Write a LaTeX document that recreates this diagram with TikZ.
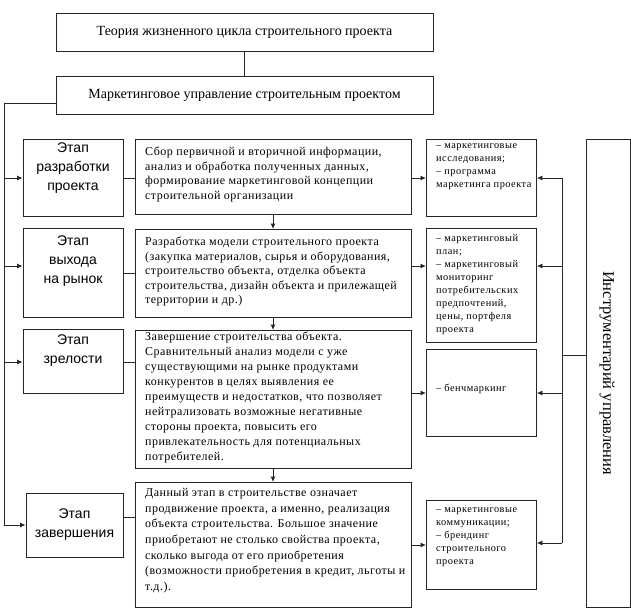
\documentclass[tikz,border=0pt]{standalone}
\usepackage{fontspec}
\setmainfont{Liberation Serif}
\newfontfamily\sansf{Liberation Sans}
\newfontfamily\midf[LetterSpace=4]{Liberation Serif}
\newfontfamily\rightf[LetterSpace=5]{Liberation Serif}
\usetikzlibrary{arrows.meta}
\tikzset{
  every picture/.style={x=1pt,y=-1pt},
  boxline/.style={draw=black!85,line width=0.9pt},
  conn/.style={draw=black!85,line width=0.8pt},
  arr/.style={conn,-{Latex[length=5.5pt,width=5pt]}},
  titlebox/.style={boxline,minimum width=377pt,minimum height=38pt,inner sep=0pt,
     font=\fontsize{14}{16}\selectfont},
  stagebox/.style={boxline,minimum width=100pt,inner sep=0pt,align=center,
     font=\sansf\fontsize{14}{19}\selectfont},
  midtext/.style={anchor=north west,inner sep=0pt,align=left,
     font=\midf\fontsize{12}{14.5}\selectfont},
  righttext/.style={anchor=north west,inner sep=0pt,align=left,
     font=\rightf\fontsize{10.3}{13}\selectfont},
  plainbox/.style={boxline,anchor=north west,inner sep=0pt}
}
\begin{document}
\begin{tikzpicture}
\useasboundingbox (0,0) rectangle (631,610);
% titles
\node[titlebox] (t1) at (244.5,32) {Теория жизненного цикла строительного проекта};
\node[titlebox] (t2) at (244.5,95) {Маркетинговое управление строительным проектом};
\draw[conn] (t1.south) -- (t2.north);
% left stage boxes
\node[stagebox,minimum height=77pt] (s1) at (73,177.5) {Этап\\разработки\\проекта\\[3pt]};
\node[stagebox,minimum height=89pt] (s2) at (73,272.5) {Этап\\выхода\\на рынок\\[6pt]};
\node[stagebox,minimum height=64pt] (s3) at (73,361) {Этап\\зрелости\\[4pt]};
\node[stagebox,minimum width=97pt,minimum height=64pt] (s4) at (74.5,525) {Этап\\завершения};
% middle boxes
\node[plainbox,minimum width=276pt,minimum height=75pt] (m1) at (135,139) {};
\node[plainbox,minimum width=276pt,minimum height=88pt] (m2) at (135,229) {};
\node[plainbox,minimum width=276pt,minimum height=138pt] (m3) at (135,330) {};
\node[plainbox,minimum width=276pt,minimum height=125pt] (m4) at (135,482) {};
\node[midtext] (mt1) at (145,147) {Сбор первичной и вторичной информации,\\анализ и обработка полученных данных,\\формирование маркетинговой концепции\\строительной организации};
\node[midtext] (mt2) at (145,237) {Разработка модели строительного проекта\\(закупка материалов, сырья и оборудования,\\строительство объекта, отделка объекта\\строительства, дизайн объекта и прилежащей\\территории и др.)};
\node[midtext,font=\midf\fontsize{12}{15}\selectfont] (mt3) at (145,332) {Завершение строительства объекта.\\Сравнительный анализ модели с уже\\существующими на рынке продуктами\\конкурентов в целях выявления ее\\преимуществ и недостатков, что позволяет\\нейтрализовать возможные негативные\\стороны проекта, повысить его\\привлекательность для потенциальных\\потребителей.};
\node[midtext,font=\midf\fontsize{12}{15.7}\selectfont] (mt4) at (145,488) {Данный этап в строительстве означает\\продвижение проекта, а именно, реализация\\объекта строительства. Большое значение\\приобретают не столько свойства проекта,\\сколько выгода от его приобретения\\(возможности приобретения в кредит, льготы и\\т.д.).};
% right boxes
\node[plainbox,minimum width=110pt,minimum height=77pt] (r1) at (426,139) {};
\node[plainbox,minimum width=110pt,minimum height=114pt] (r2) at (426,228) {};
\node[plainbox,minimum width=110pt,minimum height=87pt] (r3) at (426,349) {};
\node[plainbox,minimum width=110pt,minimum height=89pt] (r4) at (426,500) {};
\node[righttext] (rt1) at (436,143) {– маркетинговые\\исследования;\\– программа\\маркетинга проекта};
\node[righttext] (rt2) at (436,234) {– маркетинговый\\план;\\– маркетинговый\\мониторинг\\потребительских\\предпочтений,\\цены, портфеля\\проекта};
\node[righttext] (rt3) at (436,384) {– бенчмаркинг};
\node[righttext] (rt4) at (436,507) {– маркетинговые\\коммуникации;\\– брендинг\\строительного\\проекта};
% instrument box
\node[plainbox,minimum width=44pt,minimum height=468pt] (ib) at (586,139) {};
\node[rotate=-90,inner sep=0pt,font=\fontsize{16.5}{18}\selectfont] (it) at (607,373) {Инструментарий управления};
% left bus
\coordinate (lb0) at (4,103);
\coordinate (lb1) at (4,178);
\coordinate (lb2) at (4,266);
\coordinate (lb3) at (4,362);
\coordinate (lb4) at (4,525);
\draw[conn] (t2.west |- lb0) -- (lb0) -- (lb4);
\draw[arr] (lb4) -- (s4.west |- lb4);
\draw[arr] (lb1) -- (s1.west |- lb1);
\draw[arr] (lb2) -- (s2.west |- lb2);
\draw[arr] (lb3) -- (s3.west |- lb3);
% stage to middle
\draw[conn] (s1.east |- 0,178) -- (m1.west |- 0,178);
\draw[conn] (s2.east |- 0,273) -- (m2.west |- 0,273);
\draw[conn] (s3.east |- 0,362) -- (m3.west |- 0,362);
\draw[conn] (s4.east |- 0,517) -- (m4.west |- 0,517);
% down arrows
\draw[arr] (m1.south -| 273,0) -- (m2.north -| 273,0);
\draw[arr] (m2.south -| 273,0) -- (m3.north -| 273,0);
\draw[arr] (m3.south -| 273,0) -- (m4.north -| 273,0);
% middle to right
\draw[arr] (m1.east |- 0,178) -- (r1.west |- 0,178);
\draw[arr] (m2.east |- 0,266) -- (r2.west |- 0,266);
\draw[arr] (m3.east |- 0,393) -- (r3.west |- 0,393);
\draw[arr] (m4.east |- 0,545) -- (r4.west |- 0,545);
% right bus
\coordinate (rb1) at (562,178);
\coordinate (rb2) at (562,266);
\coordinate (rb3) at (562,393);
\coordinate (rb4) at (562,543);
\coordinate (rbm) at (562,355);
\draw[conn] (rb1) -- (rb4);
\draw[conn] (ib.west |- rbm) -- (rbm);
\draw[arr] (rb1) -- (r1.east |- rb1);
\draw[arr] (rb2) -- (r2.east |- rb2);
\draw[arr] (rb3) -- (r3.east |- rb3);
\draw[arr] (rb4) -- (r4.east |- rb4);
\end{tikzpicture}
\end{document}
